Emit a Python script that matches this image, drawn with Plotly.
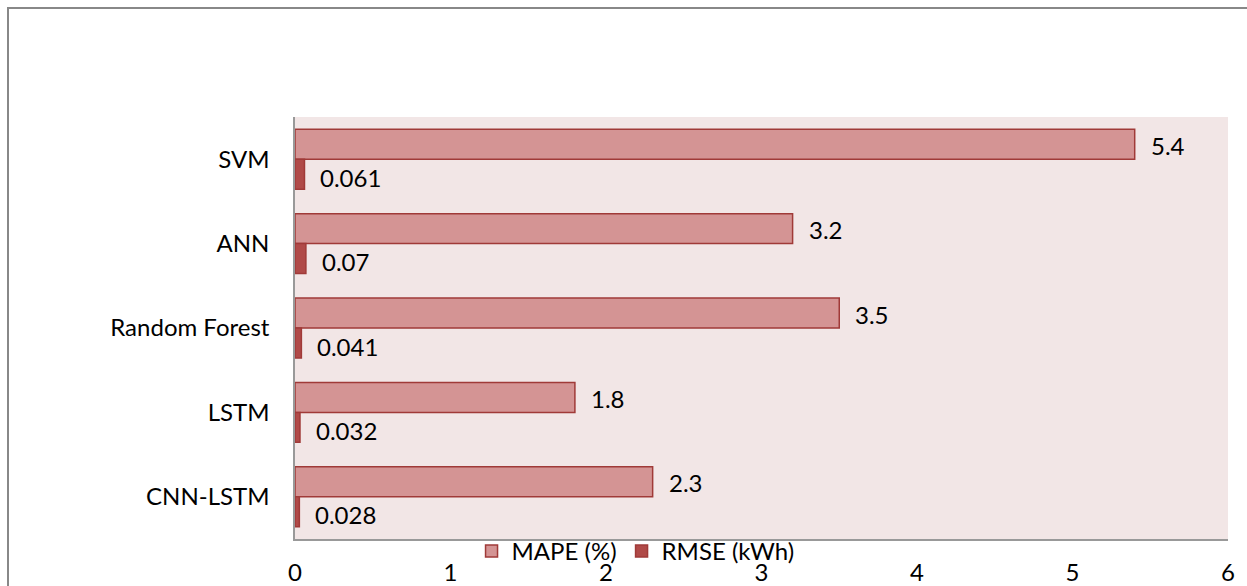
import plotly.graph_objects as go

models = ["SVM", "ANN", "Random Forest", "LSTM", "CNN-LSTM"]
mape = [5.4, 3.2, 3.5, 1.8, 2.3]
rmse = [0.061, 0.07, 0.041, 0.032, 0.028]
mape_labels = ["5.4", "3.2", "3.5", "1.8", "2.3"]
rmse_labels = ["0.061", "0.07", "0.041", "0.032", "0.028"]
x_ticks = [0, 1, 2, 3, 4, 5, 6]

W, H = 1247, 586
L, R, T, B = 295, 1228, 117, 539
FONT = "Lato, Open Sans, sans-serif"
FS = 24

fig = go.Figure()
fig.add_trace(go.Bar(
    y=models, x=mape, orientation="h", name="MAPE (%)",
    marker=dict(color="#D49494", line=dict(color="#A03A38", width=1.5)),
))
fig.add_trace(go.Bar(
    y=models, x=rmse, orientation="h", name="RMSE (kWh)",
    marker=dict(color="#B04A48", line=dict(color="#A03A38", width=1.5)),
))

for m, v, t in zip(models, mape, mape_labels):
    fig.add_annotation(x=v, y=m, text=t, showarrow=False, xanchor="left",
                       xshift=14, yshift=14, font=dict(size=FS, color="#000", family=FONT))
for m, v, t in zip(models, rmse, rmse_labels):
    fig.add_annotation(x=v, y=m, text=t, showarrow=False, xanchor="left",
                       xshift=14, yshift=-18, font=dict(size=FS, color="#000", family=FONT))

fig.update_layout(
    width=W, height=H,
    margin=dict(l=L, r=W - R, t=T, b=H - B, pad=0, autoexpand=False),
    paper_bgcolor="white", plot_bgcolor="#F2E6E6",
    barmode="group", bargap=0.29, bargroupgap=0,
    font=dict(family=FONT, size=FS, color="#000"),
    showlegend=True,
    legend=dict(orientation="h", x=0.365, xanchor="center", y=0.024, yanchor="top",
                font=dict(size=FS), bgcolor="rgba(0,0,0,0)", itemwidth=30,
                tracegroupgap=0),
    xaxis=dict(range=[0, 6], tickvals=x_ticks, showgrid=False, zeroline=False,
               showline=True, linecolor="#999999", linewidth=1.5,
               ticks="", ticklabelstandoff=11, tickfont=dict(size=FS)),
    yaxis=dict(autorange="reversed", showgrid=False, zeroline=False,
               showline=True, linecolor="#999999", linewidth=1.5,
               ticks="", ticklabelstandoff=19, tickfont=dict(size=FS)),
    shapes=[dict(type="rect", xref="paper", yref="paper",
                 x0=(8 - L) / (R - L), x1=(1300 - L) / (R - L),
                 y0=(B - 650) / (B - T), y1=(B - 8) / (B - T),
                 line=dict(color="#888888", width=2), fillcolor="rgba(0,0,0,0)",
                 layer="below")],
)

fig.write_html("out.html")
